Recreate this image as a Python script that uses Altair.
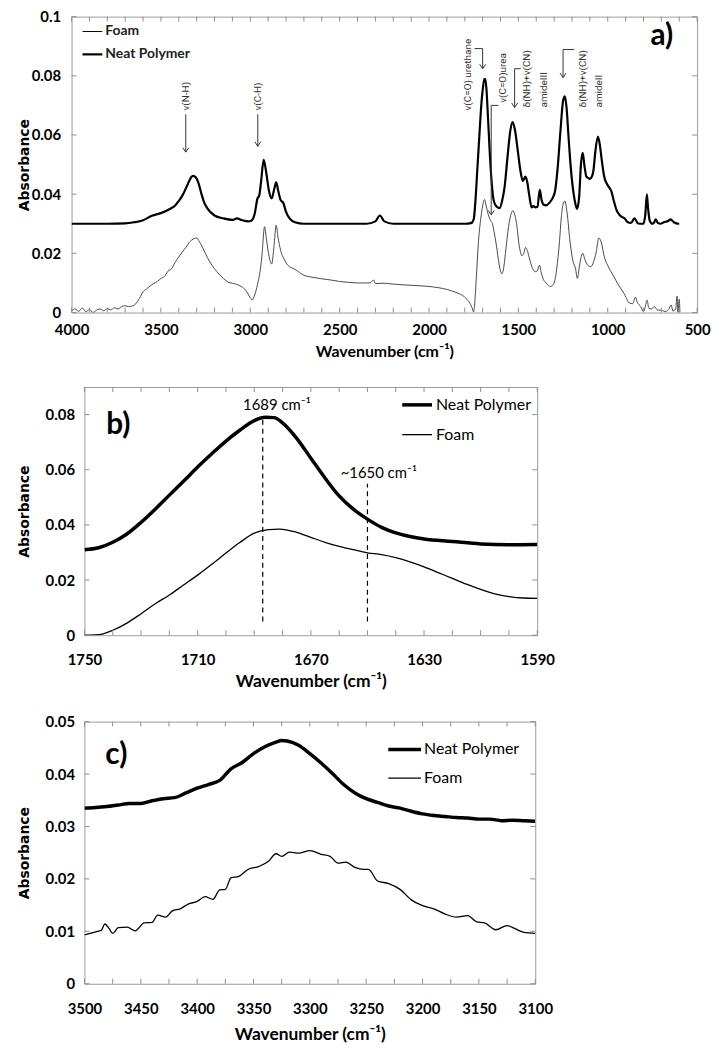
import altair as alt
import pandas as pd

# ---------------- panel a (full spectrum) ----------------
a_neat_wn = [4000, 3900, 3800, 3700, 3650, 3600, 3550, 3500, 3450, 3420, 3400, 3380, 3360, 3345, 3330, 3320,
             3305, 3290, 3275, 3260, 3240, 3200, 3150, 3100, 3075, 3050, 3010, 2995, 2975, 2960, 2950, 2940,
             2925, 2910, 2895, 2880, 2865, 2855, 2845, 2830, 2815, 2800, 2780, 2750, 2700, 2500, 2350, 2300,
             2275, 2250, 2200, 1800, 1765, 1750, 1740, 1730, 1720, 1710, 1700, 1690, 1685, 1678, 1670, 1660,
             1650, 1640, 1625, 1605, 1590, 1577, 1560, 1545, 1532, 1520, 1505, 1490, 1475, 1461, 1450, 1440,
             1426, 1415, 1405, 1393, 1380, 1370, 1360, 1345, 1325, 1310, 1295, 1280, 1265, 1250, 1240, 1230,
             1220, 1209, 1195, 1185, 1172, 1160, 1150, 1140, 1130, 1120, 1110, 1100, 1090, 1080, 1070, 1055,
             1045, 1035, 1020, 1000, 980, 965, 950, 930, 905, 888, 870, 851, 830, 800, 790, 781, 774, 765, 750,
             740, 732, 720, 705, 686, 660, 649, 630, 605, 600]
a_neat_abs = [0.0300, 0.0300, 0.0300, 0.0301, 0.0305, 0.0312, 0.0327, 0.0336, 0.0350, 0.0362, 0.0377, 0.0395,
              0.0420, 0.0440, 0.0458, 0.0462, 0.0457, 0.0438, 0.0405, 0.0375, 0.0352, 0.0328, 0.0318, 0.0313,
              0.0318, 0.0313, 0.0308, 0.0310, 0.0335, 0.0385, 0.0395, 0.0440, 0.0516, 0.0470, 0.0410, 0.0386,
              0.0420, 0.0440, 0.0415, 0.0380, 0.0370, 0.0340, 0.0318, 0.0305, 0.0300, 0.0300, 0.0300, 0.0308,
              0.0328, 0.0308, 0.0300, 0.0300, 0.0302, 0.0315, 0.0380, 0.0480, 0.0580, 0.0680, 0.0750, 0.0789,
              0.0790, 0.0750, 0.0660, 0.0540, 0.0445, 0.0385, 0.0360, 0.0353, 0.0380, 0.0425, 0.0530, 0.0615,
              0.0644, 0.0620, 0.0555, 0.0485, 0.0445, 0.0459, 0.0440, 0.0400, 0.0355, 0.0360, 0.0355, 0.0358,
              0.0415, 0.0380, 0.0365, 0.0362, 0.0372, 0.0385, 0.0410, 0.0490, 0.0610, 0.0715, 0.0731, 0.0690,
              0.0600, 0.0505, 0.0420, 0.0380, 0.0350, 0.0390, 0.0500, 0.0540, 0.0495, 0.0460, 0.0455, 0.0452,
              0.0458, 0.0480, 0.0540, 0.0595, 0.0570, 0.0523, 0.0460, 0.0430, 0.0410, 0.0375, 0.0345, 0.0327,
              0.0318, 0.0305, 0.0303, 0.0318, 0.0301, 0.0300, 0.0330, 0.0399, 0.0350, 0.0310, 0.0300, 0.0305,
              0.0315, 0.0303, 0.0300, 0.0305, 0.0310, 0.0315, 0.0305, 0.0300, 0.0300]

a_foam_wn = [4000, 3980, 3960, 3940, 3920, 3900, 3880, 3860, 3840, 3820, 3800, 3780, 3760, 3740, 3720, 3700,
             3680, 3660, 3640, 3620, 3600, 3580, 3560, 3540, 3520, 3500, 3480, 3460, 3440, 3420, 3400, 3380,
             3360, 3340, 3320, 3300, 3285, 3270, 3250, 3230, 3200, 3175, 3150, 3125, 3100, 3075, 3050, 3025,
             3000, 2990, 2975, 2960, 2945, 2935, 2920, 2910, 2895, 2880, 2868, 2855, 2845, 2830, 2810, 2790,
             2750, 2700, 2650, 2600, 2550, 2500, 2450, 2400, 2330, 2310, 2300, 2250, 2200, 2100, 2000, 1900,
             1850, 1800, 1775, 1760, 1750, 1745, 1735, 1725, 1710, 1700, 1690, 1680, 1668, 1655, 1645, 1635,
             1625, 1612, 1600, 1592, 1580, 1570, 1555, 1540, 1530, 1520, 1510, 1495, 1480, 1470, 1460, 1450,
             1440, 1420, 1405, 1395, 1382, 1372, 1360, 1345, 1320, 1300, 1285, 1270, 1260, 1250, 1240, 1228,
             1210, 1195, 1180, 1170, 1160, 1148, 1140, 1128, 1112, 1095, 1080, 1065, 1050, 1035, 1020, 1000,
             970, 940, 910, 880, 860, 845, 835, 815, 800, 790, 780, 770, 755, 740, 720, 700, 680, 660, 645,
             635, 620, 612, 607, 600, 596]
a_foam_abs = [0.0005, 0.0012, 0.0004, 0.0015, 0.0003, 0.0010, 0.0000, 0.0008, 0.0012, 0.0006, 0.0013, 0.0009,
              0.0016, 0.0012, 0.0020, 0.0023, 0.0020, 0.0022, 0.0030, 0.0048, 0.0070, 0.0080, 0.0090, 0.0098,
              0.0105, 0.0115, 0.0122, 0.0140, 0.0148, 0.0170, 0.0188, 0.0205, 0.0220, 0.0238, 0.0248, 0.0252,
              0.0240, 0.0224, 0.0198, 0.0175, 0.0148, 0.0130, 0.0115, 0.0103, 0.0099, 0.0095, 0.0088, 0.0075,
              0.0050, 0.0042, 0.0060, 0.0094, 0.0140, 0.0190, 0.0290, 0.0250, 0.0190, 0.0164, 0.0220, 0.0295,
              0.0255, 0.0210, 0.0180, 0.0160, 0.0146, 0.0126, 0.0119, 0.0114, 0.0110, 0.0105, 0.0102, 0.0100,
              0.0100, 0.0110, 0.0098, 0.0099, 0.0096, 0.0092, 0.0088, 0.0078, 0.0068, 0.0052, 0.0035, 0.0018,
              0.0002, 0.0025, 0.0120, 0.0225, 0.0320, 0.0360, 0.0382, 0.0360, 0.0330, 0.0310, 0.0300, 0.0270,
              0.0235, 0.0180, 0.0140, 0.0131, 0.0160, 0.0214, 0.0290, 0.0335, 0.0344, 0.0330, 0.0300, 0.0225,
              0.0192, 0.0200, 0.0220, 0.0210, 0.0187, 0.0148, 0.0138, 0.0140, 0.0160, 0.0135, 0.0112, 0.0100,
              0.0088, 0.0100, 0.0150, 0.0240, 0.0320, 0.0365, 0.0377, 0.0340, 0.0235, 0.0175, 0.0148, 0.0115,
              0.0150, 0.0190, 0.0200, 0.0180, 0.0160, 0.0155, 0.0170, 0.0203, 0.0252, 0.0235, 0.0190, 0.0159,
              0.0126, 0.0093, 0.0066, 0.0033, 0.0030, 0.0052, 0.0035, 0.0020, 0.0003, 0.0020, 0.0042, 0.0015,
              0.0012, 0.0020, 0.0008, 0.0008, 0.0003, 0.0010, 0.0025, 0.0005, 0.0012, 0.0055, 0.0000, 0.0045,
              0.0000]

a_xlabels = [4000, 3500, 3000, 2500, 2000, 1500, 1000, 500]
a_xminor = list(range(4000, 499, -100))
a_yticks = [0, 0.02, 0.04, 0.06, 0.08, 0.1]

# band annotations of panel a (text, wavenumber, absorbance at text start)
a_ann_text = ["\u03bd(N-H)", "\u03bd(C-H)", "\u03bd(C=O) urethane", "\u03bd(C=O)urea",
              "\u03b4(NH)+\u03bd(CN)", "amideIII", "\u03b4(NH)+\u03bd(CN)", "amideII"]
a_ann_wn = [3361, 2958, 1779, 1586, 1450, 1356, 1136, 1048]
a_ann_abs = [0.0683, 0.0683, 0.0683, 0.0709, 0.0693, 0.0693, 0.0693, 0.0693]
# arrows: vertical shafts (wn, from, to) and elbows (wn1, wn2, abs)
a_arrow_wn = [3361, 2958, 1700, 1652, 1521, 1250]
a_arrow_from = [0.0670, 0.0670, 0.0892, 0.0700, 0.0824, 0.0889]
a_arrow_to = [0.0542, 0.0562, 0.0824, 0.0330, 0.0693, 0.0794]
a_elbow_wn1 = [1745, 1652, 1521, 1250]
a_elbow_wn2 = [1700, 1612, 1487, 1189]
a_elbow_abs = [0.0892, 0.0700, 0.0824, 0.0889]

# ---------------- panel b (carbonyl region) ----------------
b_neat_wn = [1750, 1745, 1740, 1735, 1730, 1725, 1720, 1715, 1710, 1705, 1700, 1695, 1690, 1686, 1683, 1680,
             1675, 1670, 1665, 1660, 1655, 1650, 1645, 1640, 1635, 1630, 1620, 1610, 1600, 1590]
b_neat_abs = [0.0310, 0.0317, 0.0337, 0.0367, 0.0409, 0.0457, 0.0508, 0.0558, 0.0610, 0.0658, 0.0704, 0.0744,
              0.0778, 0.0790, 0.0789, 0.0770, 0.0714, 0.0642, 0.0570, 0.0505, 0.0457, 0.0421, 0.0391, 0.0371,
              0.0358, 0.0349, 0.0340, 0.0331, 0.0328, 0.0329]
b_foam_wn = [1750, 1745, 1740, 1735, 1730, 1725, 1720, 1715, 1710, 1705, 1700, 1695, 1690, 1685, 1681, 1675,
             1670, 1665, 1660, 1655, 1650, 1645, 1640, 1635, 1630, 1625, 1620, 1615, 1610, 1605, 1600, 1595, 1590]
b_foam_abs = [0.0000, 0.0002, 0.0018, 0.0044, 0.0078, 0.0114, 0.0146, 0.0182, 0.0218, 0.0257, 0.0298, 0.0337,
              0.0370, 0.0383, 0.0385, 0.0373, 0.0355, 0.0337, 0.0322, 0.0310, 0.0299, 0.0292, 0.0281, 0.0266,
              0.0248, 0.0227, 0.0206, 0.0185, 0.0166, 0.0150, 0.0140, 0.0135, 0.0134]
b_xlabels = [1750, 1710, 1670, 1630, 1590]
b_xminor = list(range(1750, 1589, -10))
b_yticks = [0, 0.02, 0.04, 0.06, 0.08]
b_mark_wn = [1687, 1650]
b_mark_top = [0.0786, 0.0549]
b_mark_bottom = [0.0050, 0.0050]
b_mark_text = ["1689 cm\u207b\u00b9", "~1650 cm\u207b\u00b9"]
b_mark_text_wn = [1682, 1646]
b_mark_text_abs = [0.0834, 0.0588]

# ---------------- panel c (N-H region) ----------------
c_neat_wn = [3500, 3490, 3480, 3470, 3460, 3450, 3440, 3430, 3420, 3410, 3400, 3390, 3380, 3370, 3360, 3350,
             3340, 3330, 3325, 3320, 3310, 3300, 3290, 3280, 3270, 3260, 3250, 3240, 3230, 3220, 3210, 3200,
             3190, 3180, 3170, 3160, 3150, 3140, 3130, 3120, 3110, 3100]
c_neat_abs = [0.0335, 0.0336, 0.0338, 0.0341, 0.0344, 0.0344, 0.0349, 0.0353, 0.0355, 0.0364, 0.0373, 0.0380,
              0.0388, 0.0410, 0.0422, 0.0439, 0.0452, 0.0461, 0.0464, 0.0463, 0.0455, 0.0439, 0.0421, 0.0401,
              0.0380, 0.0364, 0.0353, 0.0346, 0.0339, 0.0335, 0.0329, 0.0324, 0.0321, 0.0319, 0.0317, 0.0316,
              0.0314, 0.0314, 0.0311, 0.0312, 0.0311, 0.0310]
c_foam_wn = [3500, 3495, 3490, 3485, 3482, 3478, 3475, 3470, 3462, 3455, 3447, 3440, 3435, 3428, 3422, 3415,
             3408, 3400, 3393, 3386, 3380, 3375, 3370, 3363, 3355, 3345, 3337, 3330, 3325, 3318, 3310, 3300,
             3290, 3282, 3275, 3268, 3260, 3252, 3248, 3240, 3230, 3220, 3210, 3200, 3190, 3180, 3170, 3160,
             3152, 3145, 3135, 3125, 3118, 3110, 3100]
c_foam_abs = [0.0093, 0.0096, 0.0099, 0.0102, 0.0114, 0.0105, 0.0096, 0.0107, 0.0108, 0.0101, 0.0116, 0.0117,
              0.0131, 0.0127, 0.0139, 0.0143, 0.0152, 0.0157, 0.0166, 0.0161, 0.0179, 0.0180, 0.0202, 0.0205,
              0.0218, 0.0224, 0.0233, 0.0248, 0.0243, 0.0251, 0.0249, 0.0254, 0.0247, 0.0243, 0.0230, 0.0232,
              0.0222, 0.0218, 0.0218, 0.0196, 0.0191, 0.0180, 0.0160, 0.0149, 0.0143, 0.0133, 0.0127, 0.0130,
              0.0118, 0.0116, 0.0103, 0.0111, 0.0105, 0.0098, 0.0096]
c_xlabels = [3500, 3450, 3400, 3350, 3300, 3250, 3200, 3150, 3100]
c_xminor = list(range(3500, 3099, -25))
c_yticks = [0, 0.01, 0.02, 0.03, 0.04, 0.05]

GREY = "#8f8f8f"
TITLE = "Wavenumber (cm\u207b\u00b9)"
ONE = pd.DataFrame({"k": [0]})


def df(wn, ab):
    return pd.DataFrame({"wn": wn, "A": ab})


def text_at(x, y, txt, **kw):
    return alt.Chart(ONE).mark_text(**kw).encode(x=alt.value(x), y=alt.value(y), text=alt.value(txt))


def legend_line(x1, x2, y, w):
    return alt.Chart(ONE).mark_rule(color="black", strokeWidth=w).encode(
        x=alt.value(x1), x2=alt.value(x2), y=alt.value(y))


def panel(neat, foam, xdom, ydom, W, H, xlabels, xminor, yticks, nw, fw, fcolor,
          x_lp, x_tp, x_ts, y_lp, y_tp, extra):
    xs = alt.Scale(domain=xdom, reverse=True, nice=False, zero=False)
    ys = alt.Scale(domain=ydom, nice=False, zero=False)
    xaxis = alt.Axis(values=xlabels, title=TITLE, labelPadding=x_lp, titlePadding=x_tp,
                     titleFontSize=x_ts, labelFlush=False, labelOverlap=False, format="d")
    yaxis = alt.Axis(values=yticks, title="Absorbance", format=".2~f", labelPadding=y_lp,
                     titlePadding=y_tp, labelOverlap=False)
    X = lambda f="wn:Q": alt.X(f, scale=xs, axis=xaxis)
    Y = lambda f="A:Q": alt.Y(f, scale=ys, axis=yaxis)
    neat_l = alt.Chart(neat).mark_line(color="black", strokeWidth=nw, interpolate="monotone", clip=True).encode(
        x=X(), y=Y())
    foam_l = alt.Chart(foam).mark_line(color=fcolor, strokeWidth=fw, interpolate="monotone", clip=True).encode(
        x=X(), y=Y())
    xt = pd.DataFrame({"wn": xminor})
    yt = pd.DataFrame({"A": yticks})
    tb = alt.Chart(xt).mark_rule(color=GREY).encode(x=X(), y=alt.value(H), y2=alt.value(H - 5))
    tt = alt.Chart(xt).mark_rule(color=GREY).encode(x=X(), y=alt.value(0), y2=alt.value(5))
    tl = alt.Chart(yt).mark_rule(color=GREY).encode(y=Y(), x=alt.value(0), x2=alt.value(5))
    tr = alt.Chart(yt).mark_rule(color=GREY).encode(y=Y(), x=alt.value(W), x2=alt.value(W - 5))
    layers = [foam_l, neat_l, tb, tt, tl, tr] + [e(X, Y) for e in extra]
    return alt.layer(*layers).properties(width=W, height=H)


# ----- panel a extras -----
def a_annotations(X, Y):
    t = pd.DataFrame({"t": a_ann_text, "wn": a_ann_wn, "A": a_ann_abs})
    return alt.Chart(t).mark_text(angle=270, align="left", baseline="middle", font="Roboto",
                                  fontSize=10, color="#333333").encode(x=X(), y=Y(), text="t:N")


def a_shafts(X, Y):
    t = pd.DataFrame({"wn": a_arrow_wn, "A": a_arrow_from, "A2": a_arrow_to})
    return alt.Chart(t).mark_rule(color="#333333", strokeWidth=1).encode(x=X(), y=Y(), y2="A2:Q")


def a_elbows(X, Y):
    t = pd.DataFrame({"wn": a_elbow_wn1, "wn2": a_elbow_wn2, "A": a_elbow_abs})
    return alt.Chart(t).mark_rule(color="#333333", strokeWidth=1).encode(x=X(), x2="wn2:Q", y=Y())


def a_heads(X, Y):
    t = pd.DataFrame({"wn": a_arrow_wn, "A": a_arrow_to})
    return alt.Chart(t).mark_point(shape="M-1,-1.5L0,0L1,-1.5", filled=False, size=36, strokeWidth=1,
                                   color="#333333", opacity=1).encode(x=X(), y=Y())


a_leg = [
    lambda X, Y: legend_line(11, 31, 15, 1),
    lambda X, Y: legend_line(11, 31, 38, 2.2),
    lambda X, Y: text_at(34, 15, "Foam", align="left", baseline="middle", font="Lato", fontSize=14,
                         fontWeight="bold", color="#222222"),
    lambda X, Y: text_at(34, 38, "Neat Polymer", align="left", baseline="middle", font="Lato", fontSize=14,
                         fontWeight="bold", color="#222222"),
    lambda X, Y: text_at(583, 20, "a)", align="left", baseline="middle", font="Lato", fontSize=30,
                         fontWeight="bold", color="black"),
]


# ----- panel b extras -----
def b_dash(X, Y):
    t = pd.DataFrame({"wn": b_mark_wn, "A": b_mark_bottom, "A2": b_mark_top})
    return alt.Chart(t).mark_rule(color="black", strokeWidth=1.2, strokeDash=[5, 4]).encode(
        x=X(), y=Y(), y2="A2:Q")


def b_labels(X, Y):
    t = pd.DataFrame({"t": b_mark_text, "wn": b_mark_text_wn, "A": b_mark_text_abs})
    return alt.Chart(t).mark_text(font="Lato", fontSize=15, color="black", baseline="middle").encode(
        x=X(), y=Y(), text="t:N")


def bc_legend(x1, x2, y1, y2, tx, lx, ly, letter):
    return [
        lambda X, Y: legend_line(x1, x2, y1, 3.5),
        lambda X, Y: legend_line(x1, x2, y2, 1.3),
        lambda X, Y: text_at(tx, y1, "Neat Polymer", align="left", baseline="middle", font="Lato",
                             fontSize=16, color="black"),
        lambda X, Y: text_at(tx, y2, "Foam", align="left", baseline="middle", font="Lato",
                             fontSize=16, color="black"),
        lambda X, Y: text_at(lx, ly, letter, align="left", baseline="middle", font="Lato", fontSize=30,
                             fontWeight="bold", color="black"),
    ]


pa = panel(df(a_neat_wn, a_neat_abs), df(a_foam_wn, a_foam_abs), [500, 4000], [0, 0.1], 630, 298,
           a_xlabels, a_xminor, a_yticks, 2.2, 1.0, "#4a4a4a", 10, 6, 16, 11, 0,
           [a_annotations, a_shafts, a_elbows, a_heads] + a_leg)
pb = panel(df(b_neat_wn, b_neat_abs), df(b_foam_wn, b_foam_abs), [1590, 1750], [0, 0.09], 456, 250,
           b_xlabels, b_xminor, b_yticks, 3.5, 1.3, "black", 17, 6, 17.5, 10, 14,
           [b_dash, b_labels] + bc_legend(320, 350, 18, 48, 354, 22, 38, "b)"))
pc = panel(df(c_neat_wn, c_neat_abs), df(c_foam_wn, c_foam_abs), [3100, 3500], [0, 0.05], 454, 264,
           c_xlabels, c_xminor, c_yticks, 3.5, 1.3, "black", 18, 9, 17.5, 10, 14,
           bc_legend(306, 339, 28, 57, 342, 21, 34, "c)"))


def spacer():
    return alt.Chart(ONE).mark_point(opacity=0).encode(x=alt.value(0), y=alt.value(0)).properties(
        width=1, height=1, view=alt.ViewBackground(stroke="transparent"))


def row(p):
    return alt.hconcat(spacer(), p, spacing=0)


chart = alt.vconcat(row(pa), row(pb), row(pc), spacing=23).properties(
    padding={"top": -3, "left": 0, "right": 0, "bottom": 0}
).configure_view(
    stroke="#9a9a9a", strokeWidth=1
).configure_axis(
    grid=False, domain=False, ticks=False, tickSize=0, labelColor="black", titleColor="black",
    labelFont="Lato", labelFontWeight="bold", labelFontSize=15
).configure_axisX(
    titleFont="Lato", titleFontWeight="bold"
).configure_axisY(
    titleFont="DejaVu Sans", titleFontWeight="bold", titleFontSize=14
)

chart.save("out.html", embed_options={"renderer": "svg", "actions": False})
